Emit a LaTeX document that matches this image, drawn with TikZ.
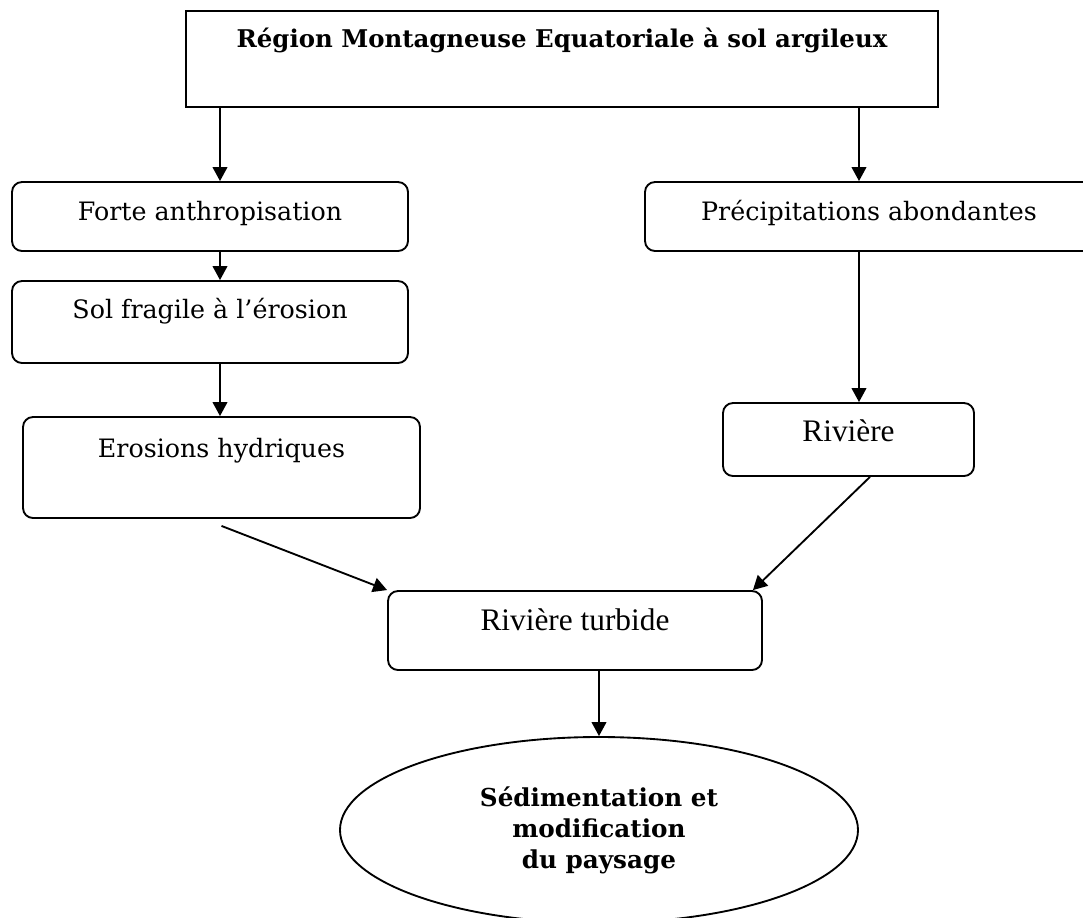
\documentclass[tikz,border=0pt]{standalone}
\usepackage{fontspec}
\setmainfont{DejaVu Serif}
\newfontfamily\timesfont{Liberation Serif}
\usetikzlibrary{arrows.meta,shapes.geometric}
\tikzset{
  box/.style={draw, line width=1.4pt, rounded corners=7.5pt, inner xsep=0pt, inner ysep=0pt,
    font=\fontsize{19}{23}\selectfont},
  tbox/.style={box, font=\timesfont\fontsize{23.5}{27}\selectfont},
  arr/.style={line width=1.4pt, -{Triangle[length=10.5pt,width=11pt]}},
}
\begin{document}
\begin{tikzpicture}[x=0.75pt,y=-0.75pt]
\clip (0,0) rectangle (1083,918);
\node[box, sharp corners, minimum width=564pt, text height=27pt, text depth=45pt,
  font=\bfseries\fontsize{18.3}{22}\selectfont] (top) at (562,59)
  {Région Montagneuse Equatoriale à sol argileux};
\node[box, minimum width=297pt, text height=28.5pt, text depth=23.25pt] (forte) at (210,216.5)
  {Forte anthropisation};
\node[box, minimum width=336pt, text height=28.5pt, text depth=23.25pt] (precip) at (869,216.5)
  {Précipitations abondantes};
\node[box, minimum width=297pt, text height=27.75pt, text depth=33.75pt] (sol) at (210,322)
  {Sol fragile à l’érosion};
\node[box, minimum width=297.75pt, text height=30pt, text depth=45.75pt] (ero) at (221.5,467.5)
  {Erosions hydriques};
\node[tbox, minimum width=188.25pt, text height=28.5pt, text depth=26.25pt] (riv) at (848.5,439.5)
  {Rivière};
\node[tbox, minimum width=280.5pt, text height=29.25pt, text depth=30pt] (turb) at (575,630.5)
  {Rivière turbide};
\node[draw, ellipse, line width=1.4pt, inner sep=0pt, minimum width=388.5pt, minimum height=139.5pt,
  align=center, font=\bfseries\fontsize{18.5}{23.25}\selectfont] (sed) at (599,830)
  {Sédimentation et\\modification\\du paysage};

\coordinate (fa) at ([xshift=7.5pt]forte.north);
\draw[arr] (fa |- top.south) -- (fa);
\coordinate (pa) at ([xshift=-7.5pt]precip.north);
\draw[arr] (pa |- top.south) -- (pa);
\draw[arr] ([xshift=7.5pt]forte.south) -- ([xshift=7.5pt]sol.north);
\coordinate (sa) at ([xshift=7.5pt]sol.south);
\draw[arr] (sa) -- (sa |- ero.north);
\coordinate (ra) at ([xshift=-7.5pt]precip.south);
\draw[arr] (ra) -- (ra |- riv.north);
\draw[arr] ([yshift=-5.25pt]ero.south) -- (turb.north west);
\draw[arr] ([xshift=16.1pt]riv.south) -- ([xshift=-7.5pt]turb.north east);
\draw[arr] (turb.south -| sed.north) -- (sed.north);
\end{tikzpicture}
\end{document}
